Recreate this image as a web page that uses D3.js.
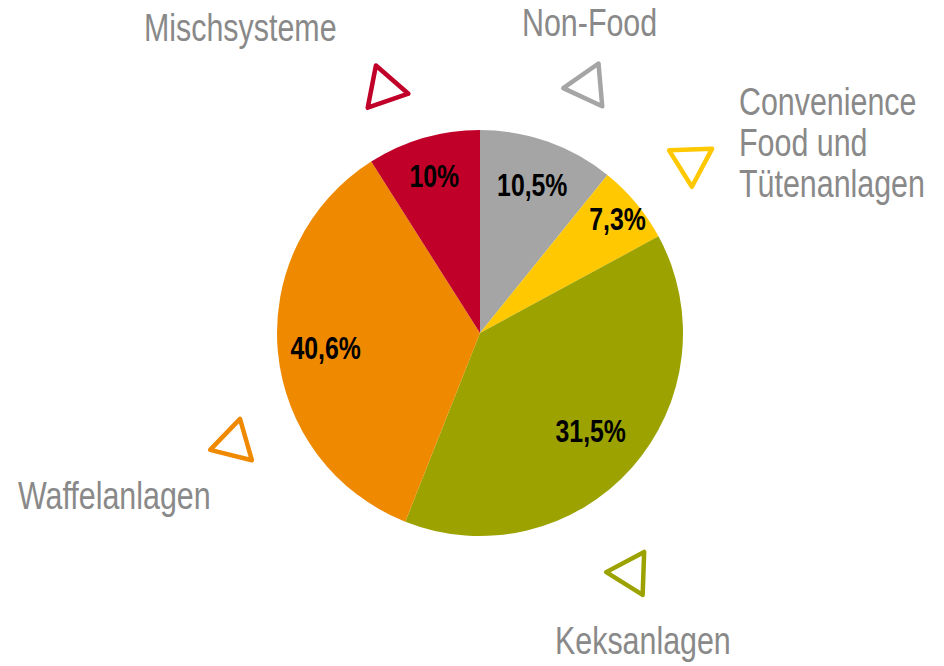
<!DOCTYPE html>
<html lang="de">
    <head>
        <meta charset="utf-8">
        <title>Anlagen Anteile</title>
        <script src="https://d3js.org/d3.v7.min.js"></script>
        <style type="text/css">
            body { margin: 0; background: #fff; }
            .pct {
                font-size: 31px;
                font-weight: bold;
                font-family: "Liberation Sans", Arial, sans-serif;
                fill: #000;
            }
            .cat {
                font-size: 38px;
                font-family: "Liberation Sans", Arial, sans-serif;
                fill: #898989;
            }
        </style>
    </head>
    <body>
        <script type="text/javascript">

            //Data (clockwise from 12 o'clock)
            const categories = ["Non-Food", "Convenience\nFood und\nTütenanlagen", "Keksanlagen", "Waffelanlagen", "Mischsysteme"];
            //slice sizes as drawn in the picture
            const values = [10.8, 6.3, 38.9, 35.0, 9.0];
            //printed percentage labels
            const valueLabels = ["10,5%", "7,3%", "31,5%", "40,6%", "10%"];

            const colors = ["#a5a5a5", "#ffc800", "#9ca300", "#ef8900", "#c00028"];

            //layout of the annotations, offsets from the pie centre
            const labelRadius = [157, 179, 148, 155, 164];
            const catPos = [[42, -297], [259, -218], [75, 321], [-462, 176], [-336, -292]];
            const markPos = [[108, -247], [211, -171], [151, 240], [-246, 110], [-96, -244]];
            const markRot = [-95, 178, -88, 14, 101];

            const w = 944;
            const h = 666;
            const cx = 480;
            const cy = 333;
            const outerRadius = 203;

            const data = categories.map((c, i) => ({
                cat: c,
                value: values[i],
                label: valueLabels[i],
                color: colors[i],
                i: i
            }));

            const pie = d3.pie().sort(null).value(d => d.value);
            const arc = d3.arc().innerRadius(0).outerRadius(outerRadius);

            const svg = d3.select("body")
                    .append("svg")
                    .attr("width", w)
                    .attr("height", h);

            const chart = svg.append("g")
                    .attr("transform", "translate(" + cx + "," + cy + ")");

            const groups = chart.selectAll("g.arc")
                    .data(pie(data))
                    .enter()
                    .append("g")
                    .attr("class", "arc");

            groups.append("path")
                .attr("fill", d => d.data.color)
                .attr("d", arc);

            //percentage labels
            groups.append("text")
                .attr("class", "pct")
                .attr("transform", d => {
                    const la = d3.arc().innerRadius(labelRadius[d.data.i]).outerRadius(labelRadius[d.data.i]);
                    return "translate(" + la.centroid(d) + ") scale(0.8,1)";
                })
                .attr("text-anchor", "middle")
                .attr("dy", "0.36em")
                .text(d => d.data.label);

            //triangle markers
            const tri = d3.symbol().type(d3.symbolTriangle).size(800);
            chart.selectAll("path.mark")
                .data(data)
                .enter()
                .append("path")
                .attr("class", "mark")
                .attr("d", tri)
                .attr("transform", (d, i) => "translate(" + markPos[i] + ") rotate(" + markRot[i] + ")")
                .attr("fill", "none")
                .attr("stroke", d => d.color)
                .attr("stroke-width", 4.5)
                .attr("stroke-linejoin", "round");

            //category names
            const cats = chart.selectAll("g.cat")
                .data(data)
                .enter()
                .append("g")
                .attr("transform", (d, i) => "translate(" + catPos[i] + ") scale(0.8,1)");

            cats.append("text")
                .attr("class", "cat")
                .selectAll("tspan")
                .data(d => d.cat.split("\n"))
                .enter()
                .append("tspan")
                .attr("x", 0)
                .attr("y", (t, j) => j * 41)
                .text(t => t);

        </script>
    </body>
</html>
